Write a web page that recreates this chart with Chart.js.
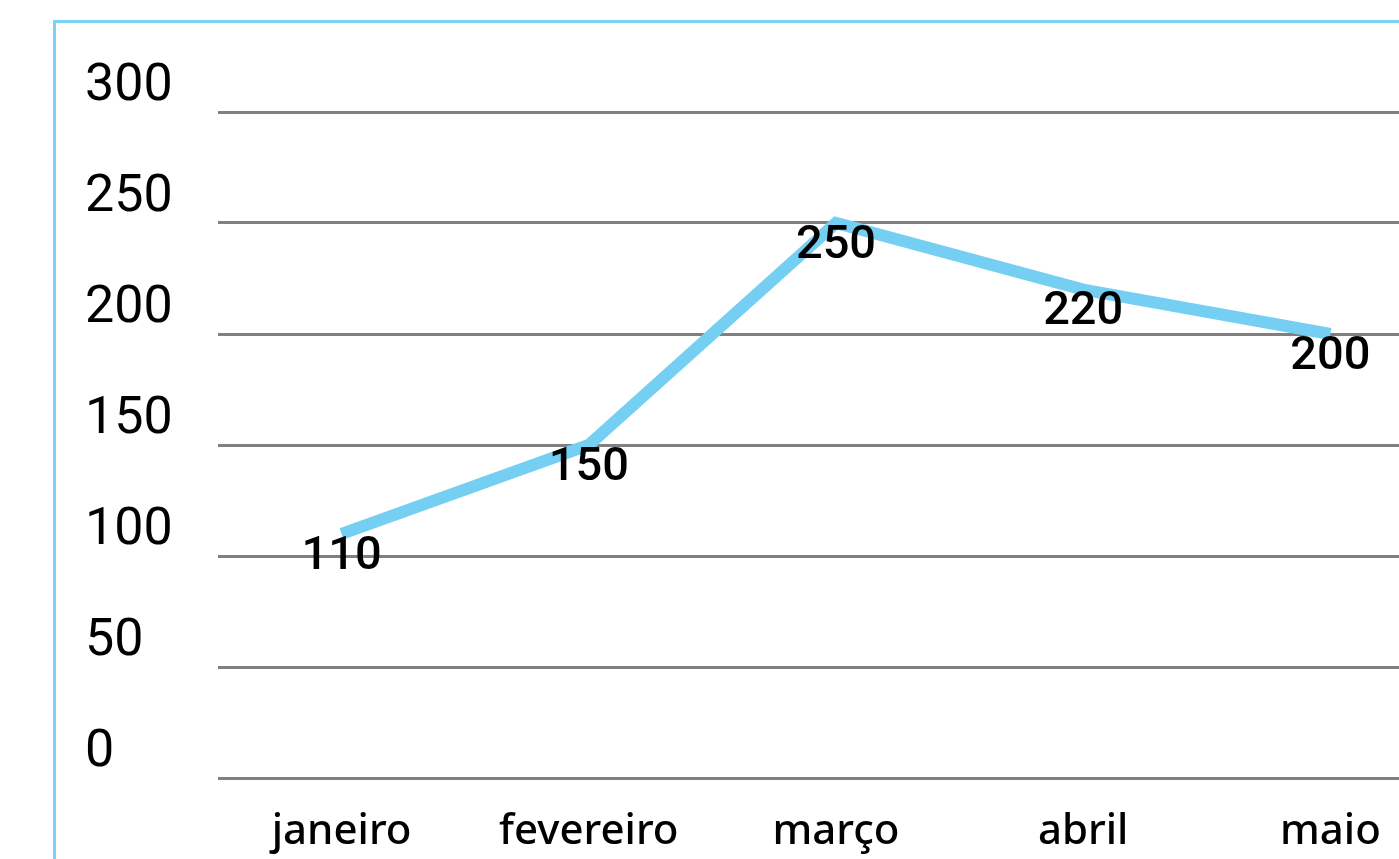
<!DOCTYPE html>
<html>
<head>
<meta charset="utf-8">
<script src="https://cdn.jsdelivr.net/npm/chart.js@4.4.1/dist/chart.umd.min.js"></script>
<style>
  html, body { margin: 0; padding: 0; background: #fff; overflow: hidden; }
  #frame { position: absolute; left: 53px; top: 20px; width: 1500px; height: 900px;
           border: 3px solid #7dd2f3; }
  #c { display: block; }
</style>
</head>
<body>
<div id="frame"><canvas id="c" width="1500" height="900"></canvas></div>
<script>
  /* ── dados ── */
  const months = ['janeiro', 'fevereiro', 'março', 'abril', 'maio'];
  const values = [110, 150, 250, 220, 200];
  const yTicks = [0, 50, 100, 150, 200, 250, 300];

  /* rótulos de valor abaixo de cada ponto */
  const valueLabels = {
    id: 'valueLabels',
    afterDatasetsDraw: function (chart) {
      const ctx = chart.ctx;
      const meta = chart.getDatasetMeta(0);
      ctx.save();
      ctx.font = '500 47px Roboto';
      ctx.fillStyle = '#000';
      ctx.textAlign = 'center';
      ctx.textBaseline = 'middle';
      meta.data.forEach(function (p, i) {
        ctx.fillText(String(values[i]), p.x, p.y + 23);
      });
      ctx.restore();
    }
  };

  new Chart(document.getElementById('c').getContext('2d'), {
    type: 'line',
    data: {
      labels: months,
      datasets: [{
        data: values,
        borderColor: '#74cff2',
        borderWidth: 12,
        borderCapStyle: 'butt',
        tension: 0,
        pointRadius: 0,
        pointHoverRadius: 0,
        fill: false
      }]
    },
    options: {
      responsive: false,
      animation: false,
      devicePixelRatio: 1,
      layout: { padding: { left: 29, top: 89, right: 102, bottom: 0 } },
      plugins: { legend: { display: false }, tooltip: { enabled: false } },
      scales: {
        x: {
          offset: true,
          grid: { display: false, drawTicks: false },
          border: { display: false },
          ticks: { padding: 29, color: '#000', maxRotation: 0, autoSkip: false,
                   font: { family: 'Noto Sans', size: 42, weight: 500 } },
          afterFit: function (s) { s.height = 145; }
        },
        y: {
          min: yTicks[0],
          max: yTicks[yTicks.length - 1],
          afterBuildTicks: function (s) { s.ticks = yTicks.map(function (v) { return { value: v }; }); },
          grid: { color: '#808080', lineWidth: 3, drawTicks: false },
          border: { display: false },
          ticks: { crossAlign: 'far', labelOffset: -25, padding: 0, color: '#000',
                   font: { family: 'Roboto', size: 52 } },
          afterFit: function (s) { s.width = 133; }
        }
      }
    },
    plugins: [valueLabels]
  });
</script>
</body>
</html>
